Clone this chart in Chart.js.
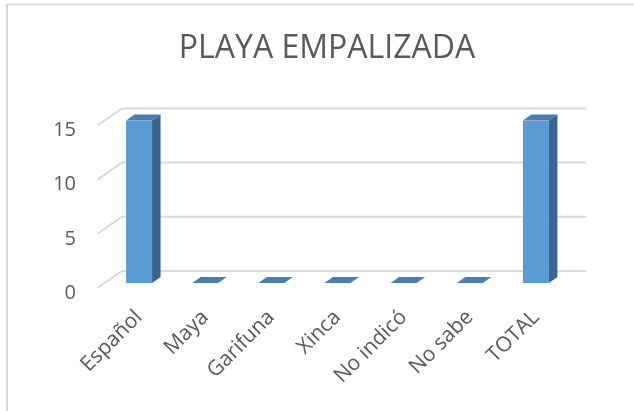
<!DOCTYPE html>
<html>
<head>
<meta charset="utf-8">
<script src="https://cdn.jsdelivr.net/npm/chart.js@4/dist/chart.umd.min.js"></script>
<style>
  html, body { margin: 0; padding: 0; background: #fff; }
  #wrap { width: 634px; height: 411px; position: relative; }
</style>
</head>
<body>
<div id="wrap"><canvas id="myChart" width="634" height="411"></canvas></div>
<script>
// Chart data
const categories = ["Español", "Maya", "Garifuna", "Xinca", "No indicó", "No sabe", "TOTAL"];
const values = [15, 0, 0, 0, 0, 0, 15];
const yTicks = [0, 5, 10, 15];

const textColor = "#595959";
const gridColor = "#D9D9D9";
const frontColor = "#5B9BD5";
const sideColor = "#3B6590";
const topColor = "#4A7DB0";

// depth of the bars
const barDx = 8.5, barDy = -6;

// Outer frame, like the Excel chart border
const framePlugin = {
    id: "frame",
    beforeDraw(chart) {
        const ctx = chart.ctx;
        ctx.save();
        ctx.strokeStyle = gridColor;
        ctx.lineWidth = 2;
        ctx.beginPath();
        ctx.moveTo(7, 411);
        ctx.lineTo(7, 4.5);
        ctx.stroke();
        ctx.lineWidth = 1.5;
        ctx.beginPath();
        ctx.moveTo(6, 4.5);
        ctx.lineTo(634, 4.5);
        ctx.stroke();
        ctx.restore();
    },
};

// Back wall gridlines with the little diagonals on the left
const wallPlugin = {
    id: "wall",
    beforeDatasetsDraw(chart) {
        const ctx = chart.ctx;
        const y = chart.scales.y;
        const area = chart.chartArea;
        ctx.save();
        ctx.strokeStyle = gridColor;
        ctx.lineWidth = 2;
        y.ticks.forEach(function (t) {
            const py = y.getPixelForValue(t.value);
            ctx.beginPath();
            ctx.moveTo(area.left - 8.5, py + 5);
            ctx.lineTo(area.left + 16, py - 12);
            ctx.lineTo(area.right + 17, py - 12);
            ctx.stroke();
        });
        ctx.restore();
    },
};

// Side and top faces of each bar
const barsPlugin = {
    id: "bars3d",
    afterDatasetsDraw(chart) {
        const ctx = chart.ctx;
        const meta = chart.getDatasetMeta(0);
        ctx.save();
        meta.data.forEach(function (bar) {
            const p = bar.getProps(["x", "y", "base", "width"], true);
            const l = p.x - p.width / 2;
            const r = p.x + p.width / 2;
            const top = Math.min(p.y, p.base);
            const base = Math.max(p.y, p.base);
            if (base - top > 0.5) {
                ctx.fillStyle = sideColor;
                ctx.beginPath();
                ctx.moveTo(r, top);
                ctx.lineTo(r + barDx, top + barDy);
                ctx.lineTo(r + barDx, base + barDy);
                ctx.lineTo(r, base);
                ctx.closePath();
                ctx.fill();
            }
            ctx.fillStyle = topColor;
            ctx.beginPath();
            ctx.moveTo(l, top);
            ctx.lineTo(l + barDx, top + barDy);
            ctx.lineTo(r + barDx, top + barDy);
            ctx.lineTo(r, top);
            ctx.closePath();
            ctx.fill();
        });
        ctx.restore();
    },
};

const ctx = document.getElementById("myChart");

new Chart(ctx, {
    type: "bar",
    data: {
        labels: categories,
        datasets: [
            {
                data: values,
                backgroundColor: frontColor,
                borderWidth: 0,
                categoryPercentage: 1,
                barPercentage: 0.393,
            },
        ],
    },
    options: {
        responsive: false,
        animation: false,
        events: [],
        layout: { padding: { left: 20, right: 0, top: 0, bottom: 0 } },
        plugins: {
            legend: { display: false },
            tooltip: { enabled: false },
            title: {
                display: true,
                text: "PLAYA EMPALIZADA",
                color: textColor,
                font: { family: "Open Sans", size: 32, weight: "normal", lineHeight: 1.2 },
                padding: { top: 30, bottom: 52 },
            },
        },
        scales: {
            x: {
                grid: { display: false },
                border: { display: false },
                ticks: {
                    color: textColor,
                    font: { family: "Open Sans", size: 21 },
                    minRotation: 45,
                    maxRotation: 45,
                    autoSkip: false,
                    padding: 14,
                },
                afterFit(scale) {
                    scale.height = 128;
                },
            },
            y: {
                min: 0,
                max: 15,
                afterBuildTicks(scale) {
                    scale.ticks = yTicks.map((v) => ({ value: v }));
                },
                grid: { display: false },
                border: { display: false },
                ticks: {
                    color: textColor,
                    font: { family: "Open Sans", size: 20 },
                    padding: 22,
                    labelOffset: 10,
                },
                afterFit(scale) {
                    scale.width = 86;
                },
            },
            // empty right-hand space, keeps the plot where the reference has it
            yRight: {
                position: "right",
                grid: { display: false },
                border: { display: false },
                ticks: { display: false },
                afterFit(scale) {
                    scale.width = 65;
                },
            },
        },
    },
    plugins: [framePlugin, wallPlugin, barsPlugin],
});
</script>
</body>
</html>
